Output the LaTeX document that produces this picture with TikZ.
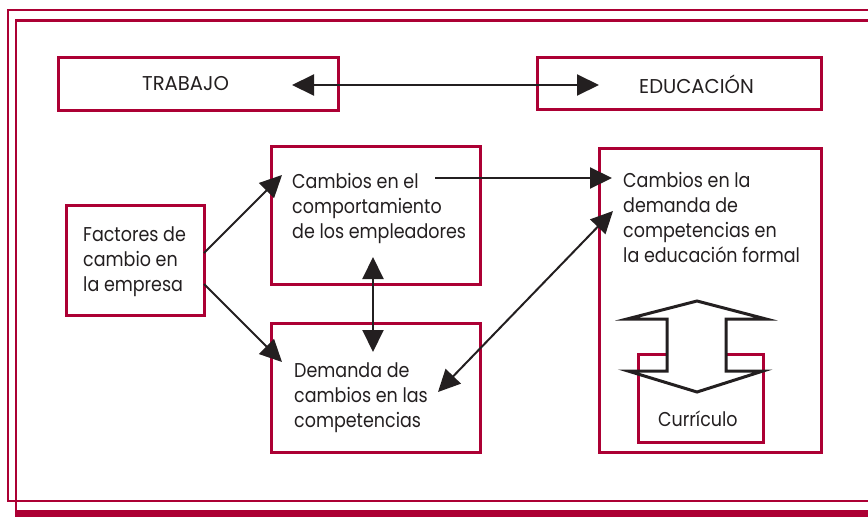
\documentclass[tikz,border=0pt]{standalone}
\usepackage{fontspec}
\setmainfont{Poppins}[FakeStretch=0.875]
\newfontfamily\capsfont{Poppins}[FakeStretch=0.98]
\usetikzlibrary{arrows.meta}
\definecolor{crim}{RGB}{172,0,52}
\definecolor{ink}{RGB}{35,31,32}
\begin{document}
\begin{tikzpicture}[x=1pt,y=-1pt,
  box/.style={draw=crim, line width=3pt, rectangle, inner sep=0pt},
  txt/.style={font=\fontsize{20}{25}\selectfont, text=ink, align=left, inner sep=0pt, anchor=base west},
  captxt/.style={txt, font=\capsfont\fontsize{20}{25}\selectfont},
  tipa/.tip={Triangle[length=22pt,width=21pt]},
  con/.style={draw=ink, line width=2pt, -tipa},
  bicon/.style={draw=ink, line width=2pt, tipa-tipa}]
\useasboundingbox (0,0) rectangle (868,517);
% frames
\draw[crim, line width=2.4pt] (870,10) -- (8,10) -- (8,501) -- (870,501);
\draw[crim, line width=2.4pt] (870,20.5) -- (16,20.5) -- (16,513);
\fill[crim] (14.8,510) rectangle (870,517);
% boxes
\node[box, minimum width=280pt, minimum height=53pt] (trab) at (198,83.5) {};
\node[box, minimum width=284pt, minimum height=52pt] (educ) at (679,83) {};
\node[box, minimum width=138pt, minimum height=110pt] (fact) at (135,260) {};
\node[box, minimum width=209pt, minimum height=138pt] (comp) at (375.5,215) {};
\node[box, minimum width=209pt, minimum height=129pt] (dema) at (375.5,387.5) {};
\node[box, minimum width=222pt, minimum height=304pt] (cdem) at (710,300) {};
\node[box, minimum width=125pt, minimum height=88pt] (curr) at (700.5,398) {};
% texts (anchor = baseline of the last line)
\node[captxt] (ttrab) at (142,90) {TRABAJO};
\node[captxt] (teduc) at (639,93) {EDUCACIÓN};
\node[txt] (tfact) at (83,291) {Factores de\\cambio en\\la empresa};
\node[txt] (tcomp) at (292,238) {Cambios en el\\comportamiento\\de los empleadores};
\node[txt] (tdema) at (294,427) {Demanda de\\cambios en las\\competencias};
\node[txt] (tcdem) at (623,262) {Cambios en la\\demanda de\\competencias en\\la educación formal};
% double hollow arrow
\draw[ink, fill=white, line width=3pt, line join=miter]
  (627,319) -- (697,301) -- (766,319) -- (726,319) -- (726,371) -- (763,371)
  -- (697,392) -- (628,371) -- (667,371) -- (667,319) -- cycle;
\node[txt] (tcurr) at (658,426) {Currículo};
% connector end points
\coordinate (trabR) at (292,85);
\coordinate (educL) at (599,85);
\coordinate (compR) at (435,178);
\coordinate (cdemL) at (612,178);
\coordinate (factA) at (204,253);
\coordinate (compL) at (282,175);
\coordinate (factB) at (204,284);
\coordinate (demaL) at (282,362);
\coordinate (compB) at (373,257);
\coordinate (demaT) at (373,352);
\coordinate (demaR) at (438,392);
\coordinate (cdemB) at (613,211);
% connectors
\draw[bicon] (trabR) -- (educL);
\draw[con] (compR) -- (cdemL);
\draw[con] (factA) -- (compL);
\draw[con] (factB) -- (demaL);
\draw[bicon] (compB) -- (demaT);
\draw[bicon] (demaR) -- (cdemB);
\end{tikzpicture}
\end{document}
